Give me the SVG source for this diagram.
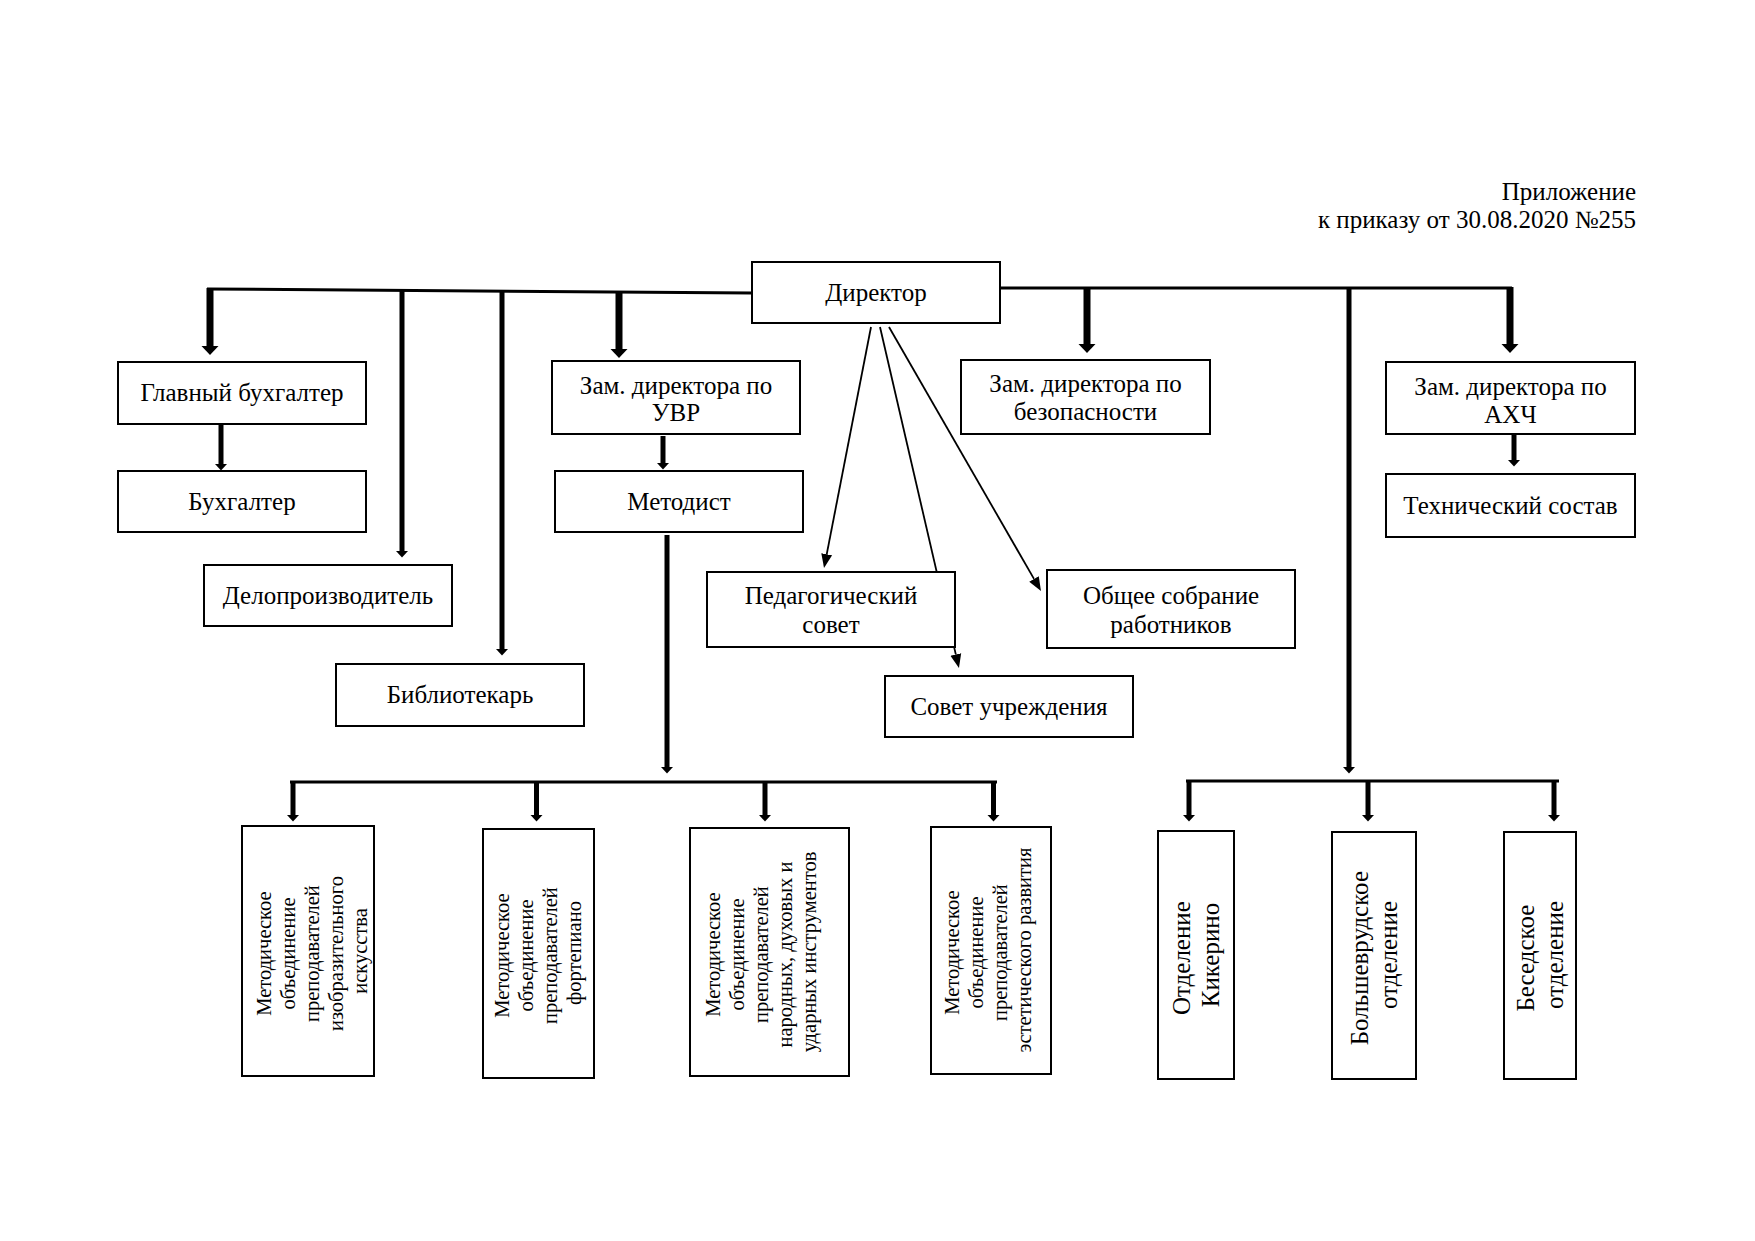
<svg xmlns="http://www.w3.org/2000/svg" width="1755" height="1241" viewBox="0 0 1755 1241">
<style>
  .box { fill: #fff; stroke: #000; stroke-width: 2; }
  .t { font-family: "Liberation Serif", "Times New Roman", serif; font-size: 25px; fill: #000; text-anchor: middle; }
  .ts { font-family: "Liberation Serif", "Times New Roman", serif; font-size: 20.5px; fill: #000; text-anchor: middle; }
  .hdr { font-family: "Liberation Serif", "Times New Roman", serif; font-size: 25px; fill: #000; text-anchor: end; }
  .bus { fill: none; stroke: #000; stroke-width: 3; }
  .bigA { stroke: #000; stroke-width: 7; fill: none; marker-end: url(#big); }
  .smA { stroke: #000; stroke-width: 5; fill: none; marker-end: url(#small); }
  .thin { stroke: #000; stroke-width: 1.8; fill: none; marker-end: url(#thinA); }
</style>
<defs>
  <marker id="big" markerUnits="userSpaceOnUse" markerWidth="12" markerHeight="20" viewBox="0 -10 12 20" refX="0" refY="0" orient="auto">
    <path d="M0,-8.5 L9,0 L0,8.5 z" fill="#000"/>
  </marker>
  <marker id="small" markerUnits="userSpaceOnUse" markerWidth="10" markerHeight="16" viewBox="0 -8 10 16" refX="0" refY="0" orient="auto">
    <path d="M0,-6 L6.5,0 L0,6 z" fill="#000"/>
  </marker>
  <marker id="thinA" markerUnits="userSpaceOnUse" markerWidth="16" markerHeight="14" viewBox="0 -7 16 14" refX="0" refY="0" orient="auto">
    <path d="M0,-5.5 L14,0 L0,5.5 z" fill="#000"/>
  </marker>
</defs>

<rect width="1755" height="1241" fill="#fff"/>

<g id="header">
  <text class="hdr" x="1636" y="200">Приложение</text>
  <text class="hdr" x="1636" y="228">к приказу от 30.08.2020 №255</text>
</g>

<g id="connectors">
  <!-- top buses from Director -->
  <path class="bus" d="M207,289 L752,293"/>
  <path class="bus" d="M1000,288 L1512,288"/>
  <!-- left drops -->
  <path class="bigA" d="M210,288 L210,346"/>
  <path class="smA" d="M402,290 L402,551"/>
  <path class="smA" d="M502,291 L502,649"/>
  <path class="bigA" d="M619,291 L619,349"/>
  <!-- right drops -->
  <path class="bigA" d="M1087,287 L1087,344"/>
  <path class="smA" d="M1349,287 L1349,767"/>
  <path class="bigA" d="M1510,287 L1510,344"/>
  <!-- secondary -->
  <path class="smA" d="M221,424 L221,464"/>
  <path class="smA" d="M663,436 L663,463"/>
  <path class="smA" d="M1514,434 L1514,460"/>
  <path class="smA" d="M667,535 L667,767"/>
  <!-- left bottom bus -->
  <path class="bus" d="M290,782 L997,782"/>
  <path class="smA" d="M293,781 L293,815"/>
  <path class="smA" d="M536.5,781 L536.5,815"/>
  <path class="smA" d="M765,781 L765,815"/>
  <path class="smA" d="M993.5,781 L993.5,815"/>
  <!-- right bottom bus -->
  <path class="bus" d="M1186,781 L1559,781"/>
  <path class="smA" d="M1189,780 L1189,815"/>
  <path class="smA" d="M1368,780 L1368,815"/>
  <path class="smA" d="M1554,780 L1554,815"/>
  <!-- thin diagonals from Director -->
  <path class="thin" d="M871,327 L826.7,554.3"/>
  <path class="thin" d="M880,327 L955.8,654.4"/>
  <path class="thin" d="M889,327 L1034,578.9"/>
</g>

<g id="director">
  <rect class="box" x="752" y="262" width="248" height="61"/>
  <text class="t" x="876" y="301">Директор</text>
</g>
<g id="glavbuh">
  <rect class="box" x="118" y="362" width="248" height="62"/>
  <text class="t" x="242" y="401">Главный бухгалтер</text>
</g>
<g id="buhgalter">
  <rect class="box" x="118" y="471" width="248" height="61"/>
  <text class="t" x="242" y="510">Бухгалтер</text>
</g>
<g id="deloproizvoditel">
  <rect class="box" x="204" y="565" width="248" height="61"/>
  <text class="t" x="328" y="604">Делопроизводитель</text>
</g>
<g id="bibliotekar">
  <rect class="box" x="336" y="664" width="248" height="62"/>
  <text class="t" x="460" y="703">Библиотекарь</text>
</g>
<g id="zam-uvr">
  <rect class="box" x="552" y="361" width="248" height="73"/>
  <text class="t" x="676" y="394">Зам. директора по</text>
  <text class="t" x="676" y="421">УВР</text>
</g>
<g id="metodist">
  <rect class="box" x="555" y="471" width="248" height="61"/>
  <text class="t" x="679" y="510">Методист</text>
</g>
<g id="zam-bez">
  <rect class="box" x="961" y="360" width="249" height="74"/>
  <text class="t" x="1085.5" y="392">Зам. директора по</text>
  <text class="t" x="1085.5" y="420">безопасности</text>
</g>
<g id="zam-ahch">
  <rect class="box" x="1386" y="362" width="249" height="72"/>
  <text class="t" x="1510.5" y="395">Зам. директора по</text>
  <text class="t" x="1510.5" y="423">АХЧ</text>
</g>
<g id="tech">
  <rect class="box" x="1386" y="474" width="249" height="63"/>
  <text class="t" x="1510.5" y="514">Технический состав</text>
</g>
<g id="pedsovet">
  <rect class="box" x="707" y="572" width="248" height="75"/>
  <text class="t" x="831" y="604">Педагогический</text>
  <text class="t" x="831" y="633">совет</text>
</g>
<g id="obshee">
  <rect class="box" x="1047" y="570" width="248" height="78"/>
  <text class="t" x="1171" y="604">Общее собрание</text>
  <text class="t" x="1171" y="633">работников</text>
</g>
<g id="sovet">
  <rect class="box" x="885" y="676" width="248" height="61"/>
  <text class="t" x="1009" y="715">Совет учреждения</text>
</g>

<g id="mo-izo">
  <rect class="box" x="242" y="826" width="132" height="250"/>
  <text class="ts" transform="translate(312,951) rotate(-90)">
    <tspan x="0" y="-41">Методическое</tspan>
    <tspan x="0" y="-17">объединение</tspan>
    <tspan x="0" y="7">преподавателей</tspan>
    <tspan x="0" y="31">изобразительного</tspan>
    <tspan x="0" y="55">искусства</tspan>
  </text>
</g>
<g id="mo-fort">
  <rect class="box" x="483" y="829" width="111" height="249"/>
  <text class="ts" transform="translate(538,953) rotate(-90)">
    <tspan x="0" y="-29">Методическое</tspan>
    <tspan x="0" y="-5">объединение</tspan>
    <tspan x="0" y="19">преподавателей</tspan>
    <tspan x="0" y="43">фортепиано</tspan>
  </text>
</g>
<g id="mo-nar">
  <rect class="box" x="690" y="828" width="159" height="248"/>
  <text class="ts" transform="translate(761,952) rotate(-90)">
    <tspan x="0" y="-41">Методическое</tspan>
    <tspan x="0" y="-17">объединение</tspan>
    <tspan x="0" y="7">преподавателей</tspan>
    <tspan x="0" y="31">народных, духовых и</tspan>
    <tspan x="0" y="55">ударных инструментов</tspan>
  </text>
</g>
<g id="mo-est">
  <rect class="box" x="931" y="827" width="120" height="247"/>
  <text class="ts" transform="translate(988,950) rotate(-90)">
    <tspan x="0" y="-29">Методическое</tspan>
    <tspan x="0" y="-5">объединение</tspan>
    <tspan x="0" y="19">преподавателей</tspan>
    <tspan x="0" y="43">эстетического развития</tspan>
  </text>
</g>

<g id="otd-kikerino">
  <rect class="box" x="1158" y="831" width="76" height="248"/>
  <text class="t" transform="translate(1196,955) rotate(-90)">
    <tspan x="0" y="-6">Отделение</tspan>
    <tspan x="0" y="23">Кикерино</tspan>
  </text>
</g>
<g id="otd-bolshevrud">
  <rect class="box" x="1332" y="832" width="84" height="247"/>
  <text class="t" transform="translate(1374,955) rotate(-90)">
    <tspan x="0" y="-6">Большеврудское</tspan>
    <tspan x="0" y="23">отделение</tspan>
  </text>
</g>
<g id="otd-besedskoe">
  <rect class="box" x="1504" y="832" width="72" height="247"/>
  <text class="t" transform="translate(1540,955) rotate(-90)">
    <tspan x="0" y="-6">Беседское</tspan>
    <tspan x="0" y="23">отделение</tspan>
  </text>
</g>
</svg>
